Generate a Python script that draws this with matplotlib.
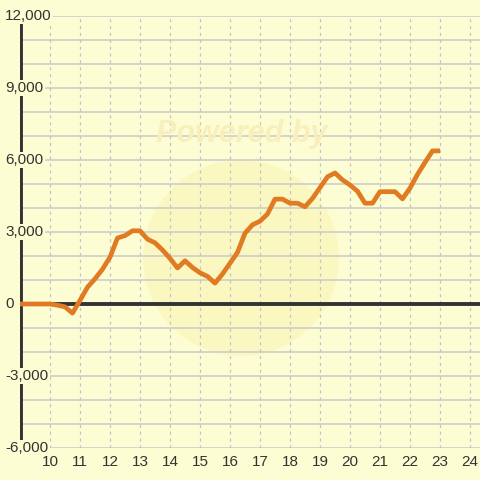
import matplotlib.pyplot as plt
import matplotlib.transforms as mtransforms
from matplotlib.patches import Circle

# hours of day and cumulative value
hours = [9.0, 9.25, 9.5, 9.75, 10.0, 10.25, 10.5, 10.75, 11.0, 11.25, 11.5, 11.75,
         12.0, 12.25, 12.5, 12.75, 13.0, 13.25, 13.5, 13.75, 14.0, 14.25, 14.5, 14.75,
         15.0, 15.25, 15.5, 15.75, 16.0, 16.25, 16.5, 16.75, 17.0, 17.25, 17.5, 17.75,
         18.0, 18.25, 18.5, 18.75, 19.0, 19.25, 19.5, 19.75, 20.0, 20.25, 20.5, 20.75,
         21.0, 21.25, 21.5, 21.75, 22.0, 22.25, 22.5, 22.75, 23.0]
values = [0, 0, 0, 0, 0, -50, -120, -380, 150, 700, 1050, 1450,
          1950, 2750, 2850, 3050, 3050, 2700, 2550, 2250, 1900, 1500, 1800, 1520,
          1300, 1150, 870, 1250, 1700, 2150, 2950, 3300, 3450, 3750, 4370, 4370,
          4200, 4200, 4050, 4400, 4850, 5300, 5460, 5170, 4960, 4700, 4200, 4200,
          4680, 4680, 4680, 4380, 4830, 5400, 5900, 6380, 6380]

x_ticks = list(range(10, 25))
y_ticks = [12000, 9000, 6000, 3000, 0, -3000, -6000]
y_grid = list(range(-6000, 12001, 1000))

bg = '#fdfdd3'
text_color = '#333333'
plt.rcParams['font.family'] = ['Liberation Sans', 'DejaVu Sans']

fig = plt.figure(figsize=(4.8, 4.8), dpi=100, facecolor=bg)
ax = fig.add_axes([20 / 480, 32 / 480, 460 / 480, 432 / 480])
ax.set_facecolor(bg)
ax.set_xlim(9, 9 + 460 / 30)
ax.set_ylim(-6000, 12000)

# faint watermark
ax.add_patch(Circle((241 / 480, 1 - 258 / 480), 98 / 480, transform=fig.transFigure,
                    facecolor='#faf0a8', edgecolor='none', alpha=0.4, zorder=0))
fig.text(242 / 480, 1 - 134 / 480, 'Powered by', ha='center', va='center',
         fontsize=22, fontweight='bold', style='italic', color='#f8efbc', zorder=0.5)

for yv in y_grid:
    ax.axhline(yv, color='#cacacc', lw=1.1, zorder=1)
for xv in x_ticks:
    ax.axvline(xv, color='#c4c4c4', lw=0.9, ls=(0, (2.5, 3)), zorder=1)

ax.axhline(0, color=text_color, lw=2.8, zorder=2)
ax.axvline(9.03, color=text_color, lw=2.8, zorder=2)

ax.plot(hours, values, color='#e07b24', lw=3.4, solid_joinstyle='round',
        solid_capstyle='butt', zorder=3)

for s in ax.spines.values():
    s.set_visible(False)

ax.set_xticks(x_ticks)
ax.set_xticklabels([str(h) for h in x_ticks], fontsize=11, color=text_color)
ax.tick_params(axis='x', length=0, pad=5)
ax.set_yticks([])

trans = mtransforms.blended_transform_factory(fig.transFigure, ax.transData)
for yv in y_ticks:
    label = f'{yv:,}'
    fig.text(5 / 480, yv, label, transform=trans, ha='left', va='center',
             fontsize=11, color=text_color, zorder=4,
             bbox=dict(facecolor=bg, edgecolor='none', pad=1))

fig.savefig('out.png', dpi=100, facecolor=bg)
